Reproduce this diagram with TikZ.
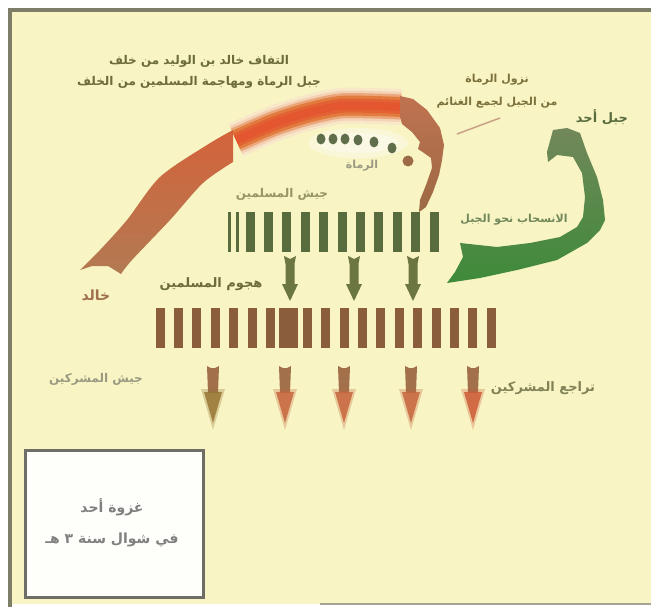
\documentclass[tikz,border=0pt]{standalone}
\usepackage{fontspec}
\newfontfamily\arabicfont[Script=Arabic]{DejaVu Sans}
\TeXXeTstate=1
\usetikzlibrary{arrows.meta}

\definecolor{cream}{HTML}{F8F4C4}
\definecolor{framegray}{HTML}{7E7E68}
\definecolor{redband}{HTML}{D4633B}
\definecolor{tailbrown}{HTML}{B27A52}
\definecolor{arcorange}{HTML}{E27C3E}
\definecolor{arcred}{HTML}{E4542E}
\definecolor{turnbrownA}{HTML}{C07250}
\definecolor{turnbrownB}{HTML}{9C6A44}
\definecolor{musgreen}{HTML}{586C3E}
\definecolor{attgreen}{HTML}{6C7640}
\definecolor{qurbrown}{HTML}{8A5E3D}
\definecolor{shaftbrown}{HTML}{A2704A}
\definecolor{headred}{HTML}{C6663E}
\definecolor{bigA}{HTML}{72885A}
\definecolor{bigB}{HTML}{3E8A3A}
\definecolor{txtolive}{HTML}{6B6C3A}
\definecolor{txtgray}{HTML}{9A9A82}
\definecolor{boxgray}{HTML}{6E6E66}

\newcommand{\artxt}[1]{\beginR #1\endR}

\tikzset{
  lbl/.style={inner sep=0pt, align=center, text=txtolive,
    font=\arabicfont\bfseries\fontsize{12}{21}\selectfont},
  biglbl/.style={lbl, font=\arabicfont\bfseries\fontsize{13}{15}\selectfont},
  midlbl/.style={lbl, font=\arabicfont\bfseries\fontsize{11}{23}\selectfont},
  arcstroke/.style={line width=#1pt}
}

\begin{document}
\begin{tikzpicture}[x=1pt, y=-1pt]
    \useasboundingbox (0,0) rectangle (651,607);
    \fill[white] (0,0) rectangle (651,607);

    % --- Frame and paper ---
    \fill[cream] (10,10) rectangle (655,604);
    \draw[framegray, line width=3.5pt] (10,607) -- (10,10) -- (655,10);
    \draw[framegray!70, line width=2pt] (320,604) -- (655,604);

    % --- Upper arc (blurred part) ---
    \foreach \w/\c/\o in {36/arcorange!25/.5, 30/arcorange!45/.6, 25/arcorange!75/.8,
                          20/arcorange/1, 14/arcred!70!arcorange/.9, 8/arcred/.8}
        \draw[arcstroke=\w, \c, opacity=\o]
            plot[smooth] coordinates {(236,140) (273,124) (307,113) (340,106) (373,106) (401,107)};

    % --- Lower arc (sharp part) ---
    \shade[top color=redband, middle color=redband, bottom color=tailbrown]
        plot[smooth] coordinates {(80,270) (100,250) (127,220) (160,177) (207,145) (233,130)}
        -- (233,162)
        -- plot[smooth] coordinates {(233,162) (203,183) (170,220) (132,260) (121,274)}
        -- (108,266) -- (92,266) -- cycle;

    % --- Turn down behind the archers ---
    \shade[top color=turnbrownA, bottom color=turnbrownB]
        (400,96) -- (413,99) -- (427,110) -- (440,128) -- (444,145) -- (442,160)
        -- (439,175) -- (433,192) -- (426,207) -- (419,212) -- (420,200)
        -- (426,185) -- (432,168) -- (431,158) -- (424,153) -- (418,149)
        -- (420,142) -- (412,132) -- (402,124) -- (400,117) -- cycle;

    % --- Archers on the hill ---
    \fill[white, opacity=.35] (358,143) ellipse (50 and 15);
    \fill[white, opacity=.35] (358,143) ellipse (40 and 10);
    \foreach \x/\y in {321/139, 333/139, 345/139, 358/140, 374/142, 392/148}
        \fill[musgreen!80!black, opacity=.85] (\x,\y) ellipse (4.5 and 5.5);
    \fill[turnbrownB] (408,161) circle (5.5);

    % --- Muslim lines ---
    \fill[musgreen] (228,212) rectangle (230.5,252);
    \fill[musgreen] (236,212) rectangle (238.5,252);
    \foreach \i in {0,...,10}
        \fill[musgreen] ({250+18.4*\i-4.5},212) rectangle ({250+18.4*\i+4.5},252);

    % --- Attack arrows ---
    \foreach \x in {290,354,413}
        \fill[attgreen] ({\x-6},256) -- (\x,259) -- ({\x+6},256) -- ({\x+4.5},264)
            -- ({\x+4.5},284) -- ({\x+8},284) -- (\x,301) -- ({\x-8},284)
            -- ({\x-4.5},284) -- ({\x-4.5},264) -- cycle;

    % --- Quraysh lines ---
    \foreach \i in {0,...,18}
        \fill[qurbrown] ({160+18.4*\i-4.5},308) rectangle ({160+18.4*\i+4.5},348);
    \fill[qurbrown] (279,308) rectangle (298,348);

    % --- Retreat arrows ---
    \foreach \x/\c in {213/shaftbrown!70!olive, 285/headred, 344/headred, 411/headred, 473/headred!90!red}{
        \fill[shaftbrown] ({\x-6},366) -- ({\x-2},368) -- ({\x+2},368) -- ({\x+6},366)
            -- ({\x+5},393) -- ({\x-5},393) -- cycle;
        \fill[\c, opacity=.3] ({\x-12},389) -- ({\x+12},389) -- (\x,430) -- cycle;
        \fill[\c, opacity=.85] ({\x-9},392) -- ({\x+9},392) -- (\x,423) -- cycle;
    }

    % --- Big green arrow up to the mountain ---
    \shade[top color=bigA, bottom color=bigB]
        (447,283) -- (480,278) -- (517,270) -- (557,260) -- (587,243) -- (600,230)
        -- (605,220) -- (603,200) -- (597,177) -- (587,153) -- (580,133) -- (567,128)
        -- (553,130) -- (547,152) -- (548,162) -- (557,155) -- (573,157) -- (582,173)
        -- (585,197) -- (583,217) -- (577,227) -- (560,237) -- (530,243) -- (497,247)
        -- (460,243) -- (463,257) -- (455,272) -- cycle;

    % --- Labels ---
    \node[lbl] (noteKhalid) at (199,72)
        {\artxt{التفاف خالد بن الوليد من خلف}\\
         \artxt{جبل الرماة ومهاجمة المسلمين من الخلف}};
    \node[midlbl, text=txtolive!80!brown] (noteArchers) at (497,91)
        {\artxt{نزول الرماة}\\ \artxt{من الجبل لجمع الغنائم}};
    \coordinate (leadA) at (500,118);
    \coordinate (leadB) at (457,134);
    \draw[tailbrown!70, line width=1.5pt] (leadA) -- (leadB);
    \node[biglbl, text=musgreen] (mountUhud) at (602,117) {\artxt{جبل أحد}};
    \node[midlbl, text=txtgray] (archersLbl) at (362,166) {\artxt{الرماة}};
    \node[lbl, text=txtgray!80!olive] (muslimsLbl) at (282,194) {\artxt{جيش المسلمين}};
    \node[lbl, font=\arabicfont\bfseries\fontsize{13}{15}\selectfont] (attackLbl) at (211,284)
        {\artxt{هجوم المسلمين}};
    \node[lbl, text=tailbrown!90!black, font=\arabicfont\bfseries\fontsize{14}{16}\selectfont]
        (khalidLbl) at (96,295) {\artxt{خالد}};
    \node[lbl, text=txtgray] (qurayshLbl) at (96,379) {\artxt{جيش المشركين}};
    \node[lbl, text=txtolive!85, font=\arabicfont\bfseries\fontsize{13}{15}\selectfont]
        (retreatLbl) at (543,388) {\artxt{تراجع المشركين}};
    \node[midlbl, text=bigA] (withdrawLbl) at (514,220) {\artxt{الانسحاب نحو الجبل}};

    % --- Info box ---
    \draw[boxgray, line width=3pt, fill=white!92!cream] (25,450) rectangle (203,597);
    \node[lbl, text=gray, font=\arabicfont\bfseries\fontsize{14}{31}\selectfont] (infoBox) at (112,523)
        {\artxt{غزوة أحد}\\ \artxt{في شوال سنة ٣ هـ}};

\end{tikzpicture}
\end{document}
